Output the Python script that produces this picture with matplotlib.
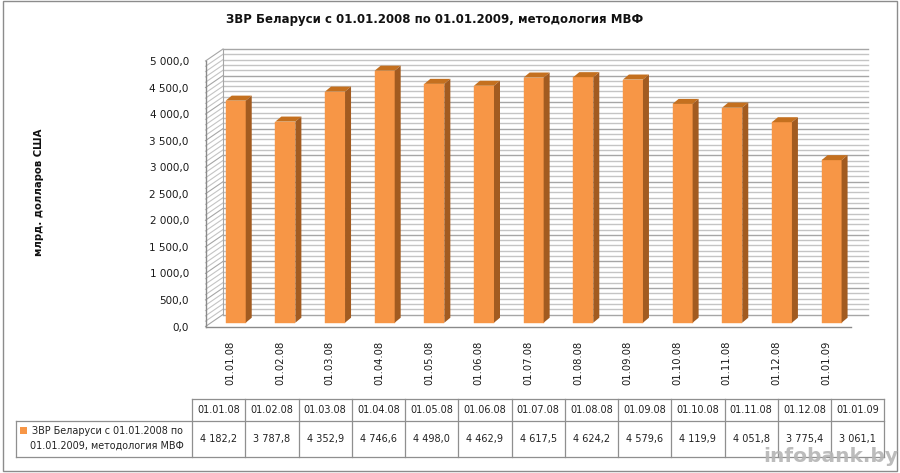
import matplotlib
matplotlib.use("Agg")
import matplotlib.pyplot as plt
from matplotlib.patches import Polygon, Rectangle

plt.rcParams['font.family'] = ['DejaVu Sans']

title = "ЗВР Беларуси с 01.01.2008 по 01.01.2009, методология МВФ"
ylabel = "млрд. долларов США"
series_name = ["ЗВР Беларуси с 01.01.2008 по", "01.01.2009, методология МВФ"]
dates = ["01.01.08", "01.02.08", "01.03.08", "01.04.08", "01.05.08", "01.06.08", "01.07.08",
         "01.08.08", "01.09.08", "01.10.08", "01.11.08", "01.12.08", "01.01.09"]
values = [4182.2, 3787.8, 4352.9, 4746.6, 4498.0, 4462.9, 4617.5,
          4624.2, 4579.6, 4119.9, 4051.8, 3775.4, 3061.1]
value_labels = ["4 182,2", "3 787,8", "4 352,9", "4 746,6", "4 498,0", "4 462,9", "4 617,5",
                "4 624,2", "4 579,6", "4 119,9", "4 051,8", "3 775,4", "3 061,1"]
major_ticks = [0, 500, 1000, 1500, 2000, 2500, 3000, 3500, 4000, 4500, 5000]
major_labels = ["0,0", "500,0", "1 000,0", "1 500,0", "2 000,0", "2 500,0", "3 000,0",
                "3 500,0", "4 000,0", "4 500,0", "5 000,0"]

W, H = 900, 473
fig = plt.figure(figsize=(W / 100, H / 100), dpi=100, facecolor="white")

# overlay in pixel coordinates for the frame and data table
ov = fig.add_axes([0, 0, 1, 1])
ov.set_xlim(0, W); ov.set_ylim(H, 0); ov.axis("off")
ov.add_patch(Rectangle((2.5, 1.5), 894.5, 469.5, fill=False, ec="#8c8c8c", lw=1.0))

# front plane of the 3-D box
L, R, B, T = 205.5, 851.0, 326.5, 61.0
ax = fig.add_axes([L / W, 1 - B / H, (R - L) / W, (B - T) / H])
ax.set_xlim(0, 13); ax.set_ylim(0, 5000)
ax.patch.set_alpha(0)
for s in ["top", "right"]:
    ax.spines[s].set_visible(False)
for s in ["left", "bottom"]:
    ax.spines[s].set_color("#8a8a8a")
    ax.spines[s].set_linewidth(1.0)

px_x = 13 / (R - L)
px_y = 5000 / (B - T)
wall_dx, wall_dy = 17.5 * px_x, 12 * px_y

# gridlines every 100 on back wall and left wall
for v in range(0, 5001, 100):
    major = v % 500 == 0
    c = "#a6a6a6" if major else "#c4c4c4"
    ax.plot([wall_dx, 13 + wall_dx], [v + wall_dy] * 2, color=c, lw=1.0, clip_on=False, zorder=1)
    ax.plot([0, wall_dx], [v, v + wall_dy], color="#c4c4c4" if not major else "#a6a6a6",
            lw=0.8, clip_on=False, zorder=1)
ax.plot([wall_dx, wall_dx], [wall_dy, 5000 + wall_dy], color="#a6a6a6", lw=0.8, clip_on=False, zorder=1)

# bars with 3-D faces
bar_w = 20 * px_x
ox, oy = 5.4 * px_x, 3.8 * px_y
dx, dy = 6 * px_x, 5 * px_y
centers = [i + 0.5 + ox for i in range(13)]
ax.bar(centers, values, width=bar_w, bottom=oy, color="#F79646", edgecolor="#F79646",
       linewidth=0.3, clip_on=False, zorder=3)
for c, v in zip(centers, values):
    x0, x1 = c - bar_w / 2, c + bar_w / 2
    top = v + oy
    ax.add_patch(Polygon([(x0, top), (x1, top), (x1 + dx, top + dy), (x0 + dx, top + dy)],
                         closed=True, fc="#C4701F", ec="none", clip_on=False, zorder=3))
    ax.add_patch(Polygon([(x1, oy), (x1 + dx, oy + dy), (x1 + dx, top + dy), (x1, top)],
                         closed=True, fc="#A25B20", ec="none", clip_on=False, zorder=3))

ax.set_yticks(major_ticks, major_labels, fontsize=7.5, color="#1a1a1a")
ax.set_xticks([i + 0.5 for i in range(13)], dates, rotation=90, fontsize=7.2, color="#1a1a1a")
ax.tick_params(axis="y", length=0, pad=12)
ax.tick_params(axis="x", length=0, pad=10)

fig.text(435 / W, 1 - 20 / H, title, ha="center", va="center", fontsize=8.5, fontweight="bold", color="#111111")
fig.text(39 / W, 1 - 192 / H, ylabel, ha="center", va="center", rotation=90, fontsize=7.3,
         fontweight="bold", color="#111111")

# data table
tl, tr, y0, y1, y2, ll = 192.0, 884.3, 399.3, 421.3, 456.7, 16.0
cw = (tr - tl) / 13
lc = "#8f8f8f"
ov.plot([tl, tr], [y0, y0], color=lc, lw=0.9)
ov.plot([ll, tr], [y1, y1], color=lc, lw=0.9)
ov.plot([ll, tr], [y2, y2], color=lc, lw=0.9)
ov.plot([ll, ll], [y1, y2], color=lc, lw=0.9)
for i in range(14):
    x = tl + i * cw
    ov.plot([x, x], [y0, y2], color=lc, lw=0.9)
for i in range(13):
    x = tl + (i + 0.5) * cw
    ov.text(x, (y0 + y1) / 2, dates[i], ha="center", va="center", fontsize=7.0, color="#222222")
    ov.text(x, (y1 + y2) / 2, value_labels[i], ha="center", va="center", fontsize=7.0, color="#222222")
ov.add_patch(Rectangle((19.5, 427), 7, 7, fc="#F79646", ec="none"))
ov.text(32, 431, series_name[0], ha="left", va="center", fontsize=6.9, color="#222222")
ov.text(30, 446, series_name[1], ha="left", va="center", fontsize=6.9, color="#222222")

# watermark
ov.text(831, 456, "infobank.by", ha="center", va="center", fontsize=14.5, fontweight="bold",
        color="#b5b5b5", alpha=0.9, zorder=10)

fig.savefig("out.png", dpi=100, facecolor="white")
